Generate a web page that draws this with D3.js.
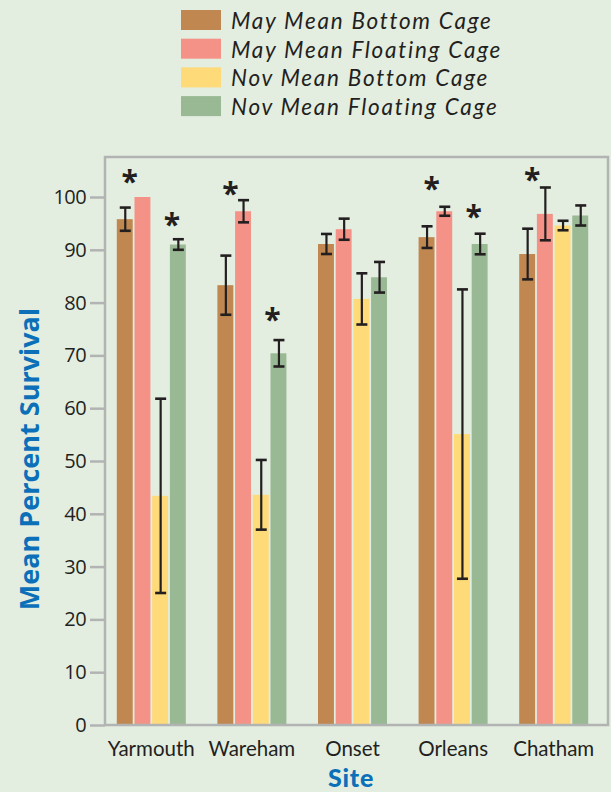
<!DOCTYPE html>
<html>
<head>
<meta charset="utf-8">
<script src="https://cdn.jsdelivr.net/npm/d3@7"></script>
<style>
  html, body { margin: 0; padding: 0; background: #e3eee1; }
  svg { display: block; }
</style>
</head>
<body>
<svg id="chart" width="611" height="792"></svg>
<script>
const sites = ["Yarmouth", "Wareham", "Onset", "Orleans", "Chatham"];
const seriesNames = ["May Mean Bottom Cage", "May Mean Floating Cage", "Nov Mean Bottom Cage", "Nov Mean Floating Cage"];
const seriesColors = ["#c08850", "#f59288", "#ffda78", "#99b994"];

const mayBottom    = [95.8, 83.3, 91.1, 92.4, 89.2];
const mayBottomErr = [2.2, 5.6, 1.9, 2.05, 4.8];
const mayFloat     = [100, 97.3, 93.9, 97.3, 96.8];
const mayFloatErr  = [0, 2.1, 2.0, 0.85, 5.0];
const novBottom    = [43.4, 43.6, 80.7, 55.1, 94.6];
const novBottomErr = [18.4, 6.6, 4.85, 27.4, 0.9];
const novFloat     = [91.0, 70.4, 84.8, 91.1, 96.5];
const novFloatErr  = [1.0, 2.5, 2.9, 1.95, 1.9];

const yTicks = [0, 10, 20, 30, 40, 50, 60, 70, 80, 90, 100];

// significance markers: site, series index, value level
const starSites  = ["Yarmouth", "Yarmouth", "Wareham", "Wareham", "Orleans", "Orleans", "Chatham"];
const starSeries = [0, 3, 0, 3, 0, 3, 0];
const starLevel  = [103.6, 95.5, 101.3, 77.5, 102.3, 97.0, 104.0];

const means = [mayBottom, mayFloat, novBottom, novFloat];
const errs = [mayBottomErr, mayFloatErr, novBottomErr, novFloatErr];

const svg = d3.select("#chart");
const W = 611, H = 792;
svg.append("rect").attr("width", W).attr("height", H).attr("fill", "#e3eee1");

const frame = { left: 105, right: 608, top: 157, bottom: 725 };
const y = d3.scaleLinear().domain([0, 100]).range([725, 197]);
const x0 = d3.scaleBand().domain(sites).range([101, 604]).paddingInner(0.314).paddingOuter(0.157);
const x1 = d3.scaleBand().domain(d3.range(4)).range([0, x0.bandwidth()]).paddingInner(0.1).paddingOuter(0);

const ink = "#231f20";
const gray = "#b2b4b3";
const font = "'Open Sans', sans-serif";
const font2 = "Lato, sans-serif";

// bars
const data = [];
sites.forEach((s, i) => {
  for (let k = 0; k < 4; k++) data.push({ site: s, k, v: means[k][i], e: errs[k][i] });
});

svg.append("g").selectAll("rect").data(data).join("rect")
  .attr("x", d => x0(d.site) + x1(d.k))
  .attr("width", x1.bandwidth())
  .attr("y", d => y(d.v))
  .attr("height", d => y(0) - y(d.v))
  .attr("fill", d => seriesColors[d.k]);

// error bars
const eb = svg.append("g").attr("stroke", ink).attr("fill", "none");
data.filter(d => d.e > 0).forEach(d => {
  const cx = x0(d.site) + x1(d.k) + x1.bandwidth() / 2 + 0.5;
  const top = y(d.v + d.e), bot = y(d.v - d.e);
  eb.append("line").attr("x1", cx).attr("x2", cx).attr("y1", top).attr("y2", bot).attr("stroke-width", 2.2);
  eb.append("line").attr("x1", cx - 5.5).attr("x2", cx + 5.5).attr("y1", top).attr("y2", top).attr("stroke-width", 2.6);
  eb.append("line").attr("x1", cx - 5.5).attr("x2", cx + 5.5).attr("y1", bot).attr("y2", bot).attr("stroke-width", 2.6);
});

// asterisks
starSites.forEach((s, i) => {
  const k = starSeries[i];
  const off = k === 0 ? 5 : -6;
  const cx = x0(s) + x1(k) + x1.bandwidth() / 2 + off;
  const cy = y(starLevel[i]);
  svg.append("text").attr("x", cx).attr("y", cy + 14)
    .attr("text-anchor", "middle").attr("font-family", font).attr("font-weight", "bold")
    .attr("font-size", 30).attr("fill", ink).text("*");
});

// frame
svg.append("rect").attr("x", frame.left).attr("y", frame.top)
  .attr("width", frame.right - frame.left).attr("height", frame.bottom - frame.top)
  .attr("fill", "none").attr("stroke", gray).attr("stroke-width", 2.5);

// y axis
const yAxis = d3.axisLeft(y).tickValues(yTicks).tickSize(15).tickPadding(4);
const gy = svg.append("g").attr("transform", `translate(${frame.left},0)`).call(yAxis);
gy.select(".domain").remove();
gy.selectAll(".tick line").attr("stroke", gray).attr("stroke-width", 2.5);
gy.selectAll(".tick text").attr("font-family", font).attr("font-size", 20)
  .attr("letter-spacing", -0.6).attr("fill", ink);

// x axis
const xAxis = d3.axisBottom(x0).tickSize(0).tickPadding(0);
const gx = svg.append("g").attr("transform", `translate(0,${frame.bottom})`).call(xAxis);
gx.select(".domain").remove();
gx.selectAll(".tick text").attr("font-family", font2).attr("font-size", 20.5)
  .attr("letter-spacing", 0).attr("fill", ink).attr("dy", 0).attr("y", 31);

// axis titles
svg.append("text").attr("transform", "translate(39,459) rotate(-90)")
  .attr("text-anchor", "middle").attr("font-family", font).attr("font-weight", "bold")
  .attr("font-size", 27).attr("fill", "#0b70b8").text("Mean Percent Survival");
svg.append("text").attr("x", 351).attr("y", 787)
  .attr("text-anchor", "middle").attr("font-family", font2).attr("font-weight", "900")
  .attr("font-size", 25).attr("letter-spacing", 0.8).attr("fill", "#0b70b8").text("Site");

// legend
const lg = svg.append("g");
seriesNames.forEach((n, i) => {
  const ty = 10 + i * 28.7;
  lg.append("rect").attr("x", 181).attr("y", ty).attr("width", 40).attr("height", 20).attr("fill", seriesColors[i]);
  lg.append("text").attr("x", 231).attr("y", ty + 19).attr("font-family", font2)
    .attr("font-style", "italic").attr("font-size", 22.5).attr("letter-spacing", 1.75)
    .attr("fill", ink).text(n);
});
</script>
</body>
</html>
